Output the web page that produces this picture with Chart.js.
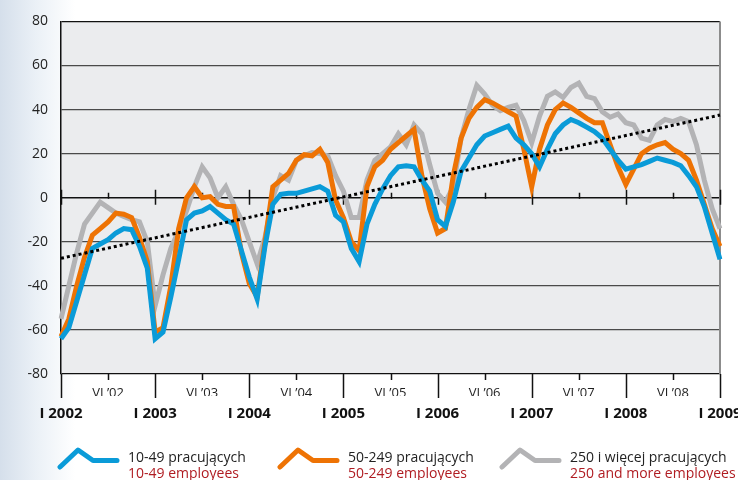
<!DOCTYPE html>
<html>
<head>
<meta charset="utf-8">
<script src="https://cdn.jsdelivr.net/npm/chart.js@4"></script>
<style>
  html, body { margin: 0; padding: 0; }
  body {
    width: 738px; height: 480px; overflow: hidden;
    background: linear-gradient(to right, #d5dfeb 0px, #eaf0f6 35px, #ffffff 75px);
    font-family: "Open Sans", sans-serif;
  }
  #wrap { position: relative; width: 738px; height: 480px; }
  .item { position: absolute; top: 446px; height: 34px; }
  .item svg { position: absolute; left: 0; top: 0; }
  .item .txt { position: absolute; left: 71px; top: 3px; font-size: 14px; line-height: 16px; white-space: nowrap; }
  .txt .pl { color: #222; }
  .txt .en { color: #b01c22; }
</style>
</head>
<body>
<div id="wrap">
  <canvas id="myChart" width="738" height="480"></canvas>
  <div id="legend"></div>
</div>
<script>
const years = [2002, 2003, 2004, 2005, 2006, 2007, 2008, 2009];
const romans = ['I', 'II', 'III', 'IV', 'V', 'VI', 'VII', 'VIII', 'IX', 'X', 'XI', 'XII'];
const categories = years.flatMap(y => romans.map(r => r + ' ' + y)).slice(0, 85);

const midYearLabels = ['VI ’02', 'VI ’03', 'VI ’04', 'VI ’05', 'VI ’06', 'VI ’07', 'VI ’08'];
const yearLabels = ['I 2002', 'I 2003', 'I 2004', 'I 2005', 'I 2006', 'I 2007', 'I 2008', 'I 2009'];

const namesPl = ['10-49 pracujących', '50-249 pracujących', '250 i więcej pracujących'];
const namesEn = ['10-49 employees', '50-249 employees', '250 and more employees'];
const colors = ['#0a9bd8', '#ee7304', '#b3b3b5'];

// 10-49
const small = [
  -64, -59, -47, -35, -23, -21, -19, -16, -14, -14.5, -22, -32,
  -64, -61, -45, -28, -10, -7, -6, -4, -7, -10, -12, -24,
  -36, -46, -22, -3, 1.5, 2, 2, 3, 4, 5, 3, -8,
  -11, -23, -29, -12, -3, 4, 10, 14, 14.5, 14, 8, 3,
  -10, -13, -2, 12, 18, 24, 28, 29.5, 31, 32.5, 27, 24,
  20, 14, 22, 29, 33, 35.5, 34, 32, 30, 27, 22, 17,
  13, 14, 15, 16.5, 18, 17, 16, 14.5, 10, 5, -4, -16,
  -28
];
// 50-249
const medium = [
  -63, -55, -40, -27, -17, -14, -11, -7, -7.5, -9, -18, -29,
  -61, -59, -40, -14, 0, 5, 0, 0.5, -3, -4, -4, -25,
  -39, -45, -20, 5, 8, 11, 17, 19.5, 19, 22, 16, -1,
  -9, -20, -24, 5, 14, 17, 22, 25, 28, 31, 10, -5,
  -16, -14, 10, 27, 36, 41, 44.5, 43, 41, 39, 37, 22,
  5, 22, 33, 40, 43, 41, 38.5, 36, 34, 34, 24, 14,
  6, 13, 20, 22.5, 24, 25, 22, 20, 17, 8, -3, -14,
  -22
];
// 250+
const large = [
  -55, -40, -25, -12, -7, -2, -4.5, -7, -8.5, -10, -11, -20,
  -49, -35, -23, -15, -6, 5, 14, 9, 0, 5, -3, -10,
  -20, -30, -18, 0, 10, 8, 17, 19, 20.5, 20, 19, 10,
  3, -9, -9, 8, 17, 20, 23, 29, 24, 33, 29, 15,
  2, -2, 5, 27, 40, 51, 47, 42, 39.5, 41, 42, 35,
  25, 37, 46, 48, 45.5, 50, 52, 46, 45, 39, 36.5, 38,
  34, 33, 27, 26, 33, 35.5, 34.5, 36, 34.5, 24, 8, -5,
  -14
];
// linear trend, first and last month
const trendEnds = [-27.5, 37.5];
const trend = categories.map((c, i) => i === 0 ? trendEnds[0] : (i === categories.length - 1 ? trendEnds[1] : null));

const plotBg = {
  id: 'plotBg',
  beforeDraw(chart) {
    const { ctx, chartArea: a } = chart;
    ctx.save();
    ctx.fillStyle = '#ebecee';
    ctx.fillRect(a.left, a.top, a.right - a.left, a.bottom - a.top);
    ctx.restore();
  }
};

const axisMarks = {
  id: 'axisMarks',
  beforeDatasetsDraw(chart) {
    const { ctx, chartArea: a, scales } = chart;
    const x = scales.x, y0 = scales.y.getPixelForValue(0);
    ctx.save();
    ctx.strokeStyle = '#8c8c8c';
    ctx.lineWidth = 2;
    ctx.beginPath();
    ctx.moveTo(a.right, a.top);
    ctx.lineTo(a.right, a.bottom);
    ctx.stroke();
    ctx.strokeStyle = '#111';
    ctx.lineWidth = 1.5;
    ctx.beginPath();
    for (let i = 0; i < categories.length; i += 6) {
      const px = Math.round(x.getPixelForValue(i)) + 0.5;
      if (i % 12 === 0) {
        ctx.moveTo(px, a.bottom); ctx.lineTo(px, a.bottom + 24);
        ctx.moveTo(px, y0 - 8); ctx.lineTo(px, y0 + 7);
      } else {
        ctx.moveTo(px, a.bottom); ctx.lineTo(px, a.bottom + 6);
        ctx.moveTo(px, y0 - 5); ctx.lineTo(px, y0 + 1);
      }
    }
    ctx.stroke();
    ctx.restore();
  }
};

const line = (label, data, color, order) => ({
  label: label,
  data: data,
  borderColor: color,
  borderWidth: 5,
  borderJoinStyle: 'miter',
  pointRadius: 0,
  tension: 0,
  order: order
});

const ctx = document.getElementById('myChart');

new Chart(ctx, {
  type: 'line',
  data: {
    labels: categories,
    datasets: [
      {
        label: 'trend',
        data: trend,
        borderColor: '#000',
        borderWidth: 3,
        borderDash: [3, 3],
        pointRadius: 0,
        spanGaps: true,
        order: 0
      },
      line(namesPl[0], small, colors[0], 1),
      line(namesPl[1], medium, colors[1], 2),
      line(namesPl[2], large, colors[2], 3)
    ]
  },
  options: {
    responsive: false,
    animation: false,
    devicePixelRatio: 1,
    layout: { padding: { top: 21, right: 18, bottom: 58, left: 0 } },
    plugins: {
      legend: { display: false },
      tooltip: { enabled: false }
    },
    scales: {
      y: {
        min: -80,
        max: 80,
        ticks: {
          stepSize: 20,
          padding: 13,
          color: '#222',
          font: { family: 'Open Sans', size: 14 }
        },
        grid: {
          drawTicks: false,
          color: c => (c.tick.value === 0 || c.tick.value === 80 || c.tick.value === -80) ? '#111' : '#4a4a4a',
          lineWidth: c => c.tick.value === 0 ? 1.6 : 1.2
        },
        border: { color: '#111', width: 1.5 },
        afterFit(scale) { scale.width = 61; }
      },
      x: {
        offset: false,
        grid: { display: false },
        border: { display: false },
        ticks: {
          autoSkip: false,
          maxRotation: 0,
          padding: 3,
          color: '#1e1e1e',
          font: { family: 'Open Sans', size: 13 },
          callback: (v, i) => i % 12 === 6 ? midYearLabels[(i - 6) / 12] : null
        },
        afterFit(scale) { scale.height = 22; scale.paddingLeft = 0; scale.paddingRight = 0; }
      },
      x2: {
        type: 'category',
        position: 'bottom',
        offset: false,
        grid: { display: false },
        border: { display: false },
        ticks: {
          autoSkip: false,
          maxRotation: 0,
          padding: 1,
          color: '#111',
          font: { family: 'Open Sans', size: 15, weight: 'bold' },
          callback: (v, i) => i % 12 === 0 ? yearLabels[i / 12] : null
        },
        afterFit(scale) { scale.height = 26; scale.paddingLeft = 0; scale.paddingRight = 0; }
      }
    }
  },
  plugins: [plotBg, axisMarks]
});

// legend
const legend = document.getElementById('legend');
const lefts = [57, 277, 499];
namesPl.forEach((name, i) => {
  const item = document.createElement('div');
  item.className = 'item';
  item.style.left = lefts[i] + 'px';
  item.innerHTML =
    '<svg width="66" height="28"><polyline points="3,21 21,4 36,14.5 60,14.5" fill="none" stroke="' + colors[i] +
    '" stroke-width="5" stroke-linecap="round" stroke-linejoin="round"/></svg>' +
    '<div class="txt"><div class="pl">' + name + '</div><div class="en">' + namesEn[i] + '</div></div>';
  legend.appendChild(item);
});
</script>
</body>
</html>
